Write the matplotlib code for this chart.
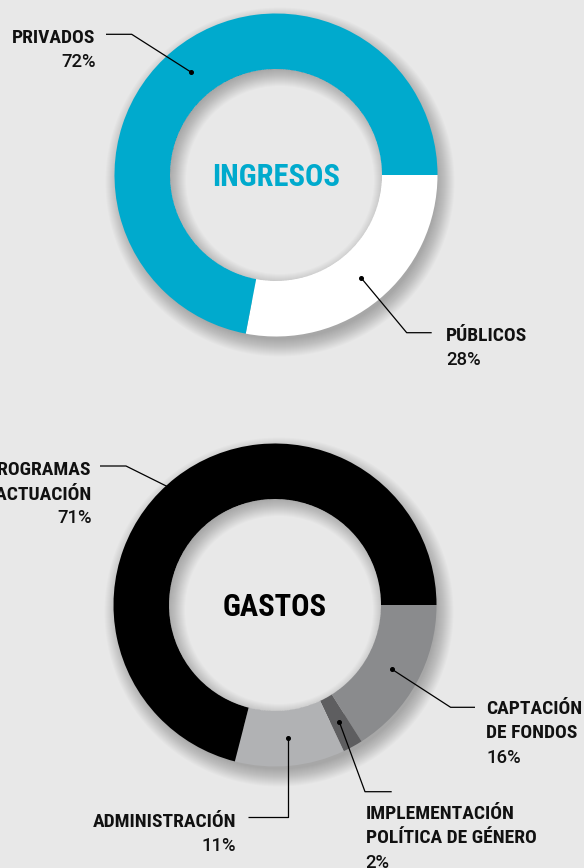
import math
import matplotlib
matplotlib.use('Agg')
import matplotlib.pyplot as plt
from matplotlib.patches import Circle, Wedge
from matplotlib import font_manager

# ---------------- data ----------------
ingresos_title = 'INGRESOS'
ingresos_labels = ['PÚBLICOS', 'PRIVADOS']
ingresos_values = [28, 72]
ingresos_colors = ['#ffffff', '#00aacd']

gastos_title = 'GASTOS'
gastos_labels = ['CAPTACIÓN\nDE FONDOS', 'IMPLEMENTACIÓN\nPOLÍTICA DE GÉNERO',
                 'ADMINISTRACIÓN', 'PROGRAMAS\nDE ACTUACIÓN']
gastos_values = [16, 2, 11, 71]
gastos_colors = ['#8a8b8d', '#5e5e60', '#b1b2b4', '#000000']

# ---------------- style ----------------
BG = '#e8e8e8'
W, H = 584, 868
names = {f.name for f in font_manager.fontManager.ttflist}
COND = next((n for n in ['Liberation Sans Narrow', 'Roboto Condensed',
                         'Open Sans Condensed'] if n in names), 'Liberation Sans')
PCT = 'Roboto' if 'Roboto' in names else 'Liberation Sans'

fig = plt.figure(figsize=(W / 100, H / 100), dpi=100, facecolor=BG)
ax = fig.add_axes([0, 0, 1, 1])
ax.set_facecolor(BG)

R_OUT, R_IN = 161.5, 106.0


def donut(cx, cy, values, colors):
    # drop shadow (below ring, toward bottom-right)
    for i in range(18):
        rho = R_OUT - 4 + i * 1.0
        ax.add_patch(Wedge((cx + 4, cy + 7), rho, 0, 360, width=rho - (R_IN + 15),
                           fc='black', alpha=0.016, lw=0, zorder=1))
    wedges, _ = ax.pie(values, colors=colors, startangle=0, counterclock=True,
                       radius=R_OUT, center=(cx, cy), frame=True,
                       wedgeprops=dict(width=R_OUT - R_IN, linewidth=0))
    for w in wedges:
        w.set_zorder(2)
    # inner shadow in the hole
    hole = Circle((cx, cy), R_IN, transform=ax.transData, fc='none', lw=0)
    ax.add_patch(hole)
    for i in range(18):
        rho = R_IN - 12 + i * 1.0
        p = Wedge((cx + 4, cy + 5), rho + 80, 0, 360, width=80,
                  fc='black', alpha=0.015, lw=0, zorder=3)
        ax.add_patch(p)
        p.set_clip_path(hole)
    return wedges


def mid_point(cx, cy, values, idx):
    total = sum(values)
    start = sum(values[:idx]) / total * 360
    mid = start + values[idx] / total * 360 / 2
    r = (R_OUT + R_IN) / 2
    # y axis is inverted: data angle increases visually clockwise
    return cx + r * math.cos(math.radians(mid)), cy + r * math.sin(math.radians(mid))


def leader(p0, elbow, end):
    ax.plot([p0[0], elbow[0], end[0]], [p0[1], elbow[1], end[1]],
            color='black', lw=0.9, zorder=5, solid_capstyle='butt')
    ax.plot([p0[0]], [p0[1]], 'o', color='black', ms=2.6, zorder=6)


def label(x, lines_y, lines, pct, ha):
    for (yy, txt) in zip(lines_y[:-1], lines):
        ax.text(x, yy, txt, ha=ha, va='baseline', fontsize=14, family=COND,
                fontweight='bold', color='#111111', zorder=6)
    ax.text(x, lines_y[-1], pct, ha=ha, va='baseline', fontsize=13.3,
            family=PCT, fontweight='medium', color='#111111', zorder=6)


# ---------------- INGRESOS ----------------
c1 = (276, 175)
donut(*c1, ingresos_values, ingresos_colors)
ax.text(c1[0], c1[1] + 11, ingresos_title, ha='center', va='baseline', fontsize=22,
        family=COND, fontweight='bold', color=ingresos_colors[1], zorder=6)

# PÚBLICOS
leader(mid_point(*c1, ingresos_values, 0), (406.7, 332.7), (431.7, 332.7))
label(446, [340.7, 365.3], [ingresos_labels[0]], f'{ingresos_values[0]}%', 'left')
# PRIVADOS
leader(mid_point(*c1, ingresos_values, 1), (131.7, 34.3), (106, 34.3))
label(95.5, [43.3, 66.7], [ingresos_labels[1]], f'{ingresos_values[1]}%', 'right')

# ---------------- GASTOS ----------------
c2 = (275, 605)
donut(*c2, gastos_values, gastos_colors)
ax.text(c2[0], c2[1] + 11, gastos_title, ha='center', va='baseline', fontsize=22,
        family=COND, fontweight='bold', color='#000000', zorder=6)

# CAPTACIÓN
leader(mid_point(*c2, gastos_values, 0), (450.6, 707.3), (475, 707.3))
label(486, [714, 738.3, 763.3], gastos_labels[0].split('\n'), f'{gastos_values[0]}%', 'left')
# IMPLEMENTACIÓN
leader(mid_point(*c2, gastos_values, 1), (365, 791.7), (391.7, 791.7))
label(365.5, [819.3, 843.3, 867.5], gastos_labels[1].split('\n'), f'{gastos_values[1]}%', 'left')
# ADMINISTRACIÓN
pa = mid_point(*c2, gastos_values, 2)
leader(pa, (pa[0], 817.3), (248.3, 817.3))
label(236, [826.7, 851], gastos_labels[2].split('\n'), f'{gastos_values[2]}%', 'right')
# PROGRAMAS
leader(mid_point(*c2, gastos_values, 3), (126, 466), (100, 466))
label(91.7, [475, 500, 523.3], gastos_labels[3].split('\n'), f'{gastos_values[3]}%', 'right')

ax.set_xlim(0, W)
ax.set_ylim(H, 0)
ax.set_aspect('equal')
ax.axis('off')

fig.savefig('out.png', dpi=100, facecolor=BG)
